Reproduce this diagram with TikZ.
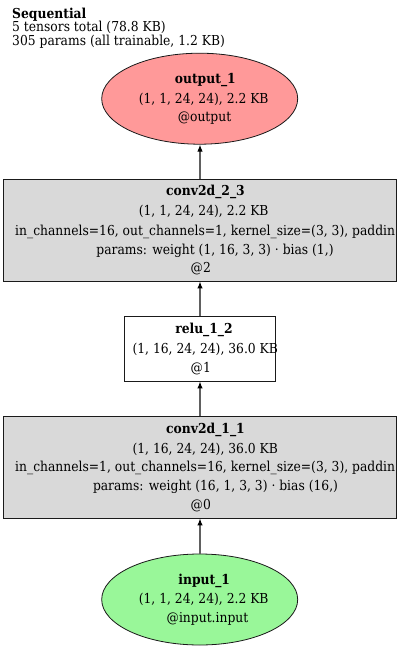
\documentclass[tikz,border=0pt]{standalone}
\usepackage{fontspec}
\setmainfont{DejaVu Serif Condensed}
\usetikzlibrary{shapes.geometric,arrows.meta}
\definecolor{outred}{HTML}{FF9999}
\definecolor{ingreen}{HTML}{99F799}
\definecolor{boxgray}{HTML}{D9D9D9}
\definecolor{edgegray}{HTML}{606060}
\definecolor{linecol}{HTML}{1A1A1A}
\begin{document}
\begin{tikzpicture}[x=1pt,y=-1pt,
  lbl/.style={font=\fontsize{13.7}{16}\selectfont, inner sep=0pt, anchor=base},
  lblw/.style={lbl, anchor=base west},
  ttl/.style={font=\fontsize{13.7}{16}\selectfont, inner sep=0pt, anchor=base west},
  oval/.style={ellipse, draw=linecol, line width=0.8pt, inner sep=0pt, minimum width=196pt, minimum height=91pt},
  layer/.style={rectangle, draw=linecol, line width=0.8pt, inner sep=0pt, fill=boxgray, minimum width=393.4pt, minimum height=101.7pt},
  plain/.style={rectangle, draw=linecol, line width=0.8pt, inner sep=0pt, fill=white, minimum width=151.4pt, minimum height=64.3pt},
  edge/.style={draw=edgegray, line width=1.2pt, -{Latex[length=7pt,width=5.5pt,color=black]}}
]
\useasboundingbox (0,0) rectangle (400,649);
\fill[white] (0,0) rectangle (400,649);

% title
\node[ttl] (t1) at (12,18.3) {\textbf{Sequential}};
\node[ttl] (t2) at (12,31.5) {5 tensors total (78.8 KB)};
\node[ttl] (t3) at (12,45.5) {305 params (all trainable, 1.2 KB)};

% shapes
\node[oval, fill=outred] (out) at (199.7,98.7) {};
\node[layer] (c2) at (200,230.2) {};
\node[plain] (relu) at (200,348.9) {};
\node[layer] (c1) at (200,467.2) {};
\node[oval, fill=ingreen] (in) at (199.7,599.5) {};

% output text
\node[lbl] (o1) at (205.3,83.3) {\textbf{output\_1}};
\node[lbl] (o2) at (203.7,103) {(1, 1, 24, 24), 2.2 KB};
\node[lbl] (o3) at (204.5,121.3) {@output};

% conv2d_2_3 text
\node[lbl] (a1) at (205.5,195.7) {\textbf{conv2d\_2\_3}};
\node[lbl] (a2) at (203.7,215.7) {(1, 1, 24, 24), 2.2 KB};
\node[lblw] (a3) at (15,235) {in\_channels=16, out\_channels=1, kernel\_size=(3, 3), paddin};
\node[lbl] (a4) at (215,254) {params: weight (1, 16, 3, 3) · bias (1,)};
\node[lbl] (a5) at (200.8,272.3) {@2};

% relu text
\node[lbl] (r1) at (204,333.3) {\textbf{relu\_1\_2}};
\node[lbl] (r2) at (205.3,353.3) {(1, 16, 24, 24), 36.0 KB};
\node[lbl] (r3) at (200.8,372.3) {@1};

% conv2d_1_1 text
\node[lbl] (b1) at (205.5,433.3) {\textbf{conv2d\_1\_1}};
\node[lbl] (b2) at (205.3,453) {(1, 16, 24, 24), 36.0 KB};
\node[lblw] (b3) at (15,471.7) {in\_channels=1, out\_channels=16, kernel\_size=(3, 3), paddin};
\node[lbl] (b4) at (215.5,490.7) {params: weight (16, 1, 3, 3) · bias (16,)};
\node[lbl] (b5) at (200.8,509.3) {@0};

% input text
\node[lbl] (i1) at (204.2,584) {\textbf{input\_1}};
\node[lbl] (i2) at (203.7,603) {(1, 1, 24, 24), 2.2 KB};
\node[lbl] (i3) at (207.5,622.3) {@input.input};

% edges
\draw[edge] (c2.north) -- (c2.north |- out.south);
\draw[edge] (relu.north) -- (c2.south);
\draw[edge] (c1.north) -- (relu.south);
\draw[edge] (in.north -| c1.south) -- (c1.south);
\end{tikzpicture}
\end{document}
